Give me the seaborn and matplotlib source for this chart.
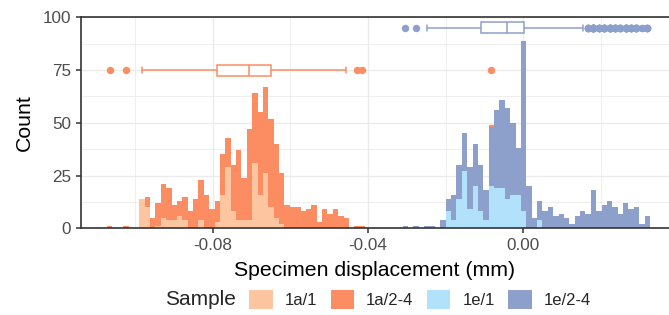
import numpy as np
import pandas as pd
import matplotlib
matplotlib.use("Agg")
import matplotlib.pyplot as plt
import seaborn as sns
from matplotlib.patches import Patch
from matplotlib.ticker import FixedLocator

# ---------------- data ----------------
samples = ["1a/1", "1a/2-4", "1e/1", "1e/2-4"]
sample_group = {"1a/1": "1a", "1a/2-4": "1a", "1e/1": "1e", "1e/2-4": "1e"}

# histogram bin grid (mm)
bin_start = -0.10729
bin_width = 0.0013853

# counts per bin (101 bins)
c_1a_1 = [0, 0, 0, 0, 0, 0, 14, 10, 0, 1,
          5, 4, 4, 6, 4, 0, 0, 4, 0, 0,
          3, 16, 29, 8, 4, 4, 4, 31, 16, 26,
          10, 5, 2, 0, 0, 0, 0, 0, 0, 0,
          0, 0, 0, 0, 0, 0, 0, 0, 0, 0,
          0, 0, 0, 0, 0, 0, 0, 0, 0, 0,
          0, 0, 0, 0, 0, 0, 0, 0, 0, 0,
          0, 0, 0, 0, 0, 0, 0, 0, 0, 0,
          0, 0, 0, 0, 0, 0, 0, 0, 0, 0,
          0, 0, 0, 0, 0, 0, 0, 0, 0, 0,
          0]
c_1a_24 = [1, 0, 0, 1, 0, 0, 0, 5, 5, 11,
           16, 15, 7, 7, 11, 8, 14, 19, 16, 9,
           10, 19, 14, 22, 33, 20, 43, 33, 39, 41,
           42, 35, 24, 11, 10, 10, 8, 9, 11, 3,
           9, 7, 9, 6, 5, 0, 1, 1, 0, 0,
           0, 0, 0, 0, 0, 0, 0, 0, 0, 0,
           0, 0, 0, 0, 0, 0, 0, 0, 0, 0,
           0, 1, 0, 0, 0, 0, 0, 0, 0, 0,
           0, 0, 0, 0, 0, 0, 0, 0, 0, 0,
           0, 0, 0, 0, 0, 0, 0, 0, 0, 0,
           0]
c_1e_1 = [0, 0, 0, 0, 0, 0, 0, 0, 0, 0,
          0, 0, 0, 0, 0, 0, 0, 0, 0, 0,
          0, 0, 0, 0, 0, 0, 0, 0, 0, 0,
          0, 0, 0, 0, 0, 0, 0, 0, 0, 0,
          0, 0, 0, 0, 0, 0, 0, 0, 0, 0,
          0, 0, 0, 0, 0, 0, 0, 0, 0, 0,
          0, 0, 0, 8, 4, 14, 27, 9, 20, 8,
          4, 20, 19, 19, 14, 16, 16, 8, 0, 0,
          4, 0, 0, 0, 0, 0, 0, 0, 0, 0,
          0, 0, 0, 0, 0, 0, 0, 0, 0, 0,
          0]
c_1e_24 = [0, 0, 0, 0, 0, 0, 0, 0, 0, 0,
           0, 0, 0, 0, 0, 0, 0, 0, 0, 0,
           0, 0, 0, 0, 0, 0, 0, 0, 0, 0,
           0, 0, 0, 0, 0, 0, 0, 0, 0, 0,
           0, 0, 0, 0, 0, 0, 0, 0, 0, 0,
           0, 0, 0, 0, 0, 1, 0, 1, 0, 1,
           1, 0, 4, 6, 12, 16, 18, 20, 20, 22,
           14, 28, 37, 42, 43, 34, 22, 81, 20, 5,
           9, 8, 10, 6, 7, 5, 2, 6, 8, 7,
           18, 8, 11, 13, 10, 7, 12, 9, 10, 2,
           6]

counts = {"1a/1": c_1a_1, "1a/2-4": c_1a_24, "1e/1": c_1e_1, "1e/2-4": c_1e_24}

x_ticks = [-0.08, -0.04, 0.00]
x_tick_labels = ["-0.08", "-0.04", "0.00"]
x_minor = [-0.10, -0.06, -0.02, 0.02]
y_ticks = [0, 25, 50, 75, 100]
y_tick_labels = ["0", "25", "50", "75", "100"]
y_minor = [12.5, 37.5, 62.5, 87.5]

# ---------------- style ----------------
colors = {"1a/1": "#FDC5A0", "1a/2-4": "#FC8D62", "1e/1": "#B1E1FB", "1e/2-4": "#8DA0CB"}
box_colors = {"1a": "#FC8D62", "1e": "#8DA0CB"}
box_rows = {"1a": 75, "1e": 95}
stack_order = ["1a/2-4", "1e/2-4", "1e/1", "1a/1"]  # first = top of stack

sns.set_theme(style="white")
plt.rcParams["font.family"] = ["Liberation Sans", "DejaVu Sans"]

n = len(c_1a_1)
edges = bin_start + bin_width * np.arange(n + 1)
centers = edges[:-1] + bin_width / 2

hist_df = pd.DataFrame({
    "x": np.tile(centers, len(samples)),
    "count": np.concatenate([counts[s] for s in samples]),
    "Sample": np.repeat(samples, n),
})

W, H = 669, 315
fig = plt.figure(figsize=(W / 100, H / 100), dpi=100)
L, R, T, B = 80.7, 669, 17.3, 228.3
ax = fig.add_axes([L / W, 1 - B / H, (R - L) / W, (B - T) / H])
ax.set_axisbelow(True)

sns.histplot(data=hist_df, x="x", weights="count", hue="Sample",
             hue_order=stack_order, palette=colors, bins=list(edges),
             multiple="stack", element="step", fill=True, alpha=1,
             linewidth=0, legend=False, ax=ax)

for grp, ypos in box_rows.items():
    members = [s for s in samples if sample_group[s] == grp]
    vals = np.concatenate([np.repeat(centers, counts[s]) for s in members])
    bdf = pd.DataFrame({"x": vals, "y": np.full(len(vals), ypos)})
    col = box_colors[grp]
    sns.boxplot(data=bdf, x="x", y="y", orient="y", native_scale=True,
                width=5.2, color="white", saturation=1, linecolor=col,
                linewidth=1.1, fliersize=4.3,
                flierprops=dict(marker="o", markerfacecolor=col,
                                markeredgecolor=col),
                ax=ax)

ax.set_xlim(-0.11407, 0.03755)
ax.set_ylim(0, 100)
ax.xaxis.set_major_locator(FixedLocator(x_ticks))
ax.set_xticklabels(x_tick_labels)
ax.xaxis.set_minor_locator(FixedLocator(x_minor))
ax.yaxis.set_major_locator(FixedLocator(y_ticks))
ax.set_yticklabels(y_tick_labels)
ax.yaxis.set_minor_locator(FixedLocator(y_minor))

ax.grid(True, which="major", color="#EBEBEB", linewidth=1.0)
ax.grid(True, which="minor", color="#EBEBEB", linewidth=0.55)

for side in ["top", "left", "bottom"]:
    ax.spines[side].set_visible(True)
    ax.spines[side].set_color("#333333")
    ax.spines[side].set_linewidth(1.2)
ax.spines["right"].set_visible(False)

ax.tick_params(axis="both", which="major", length=3.5, width=1.1,
               color="#333333", labelcolor="#4D4D4D", labelsize=12.3, pad=3.5,
               bottom=True, left=True)
ax.tick_params(axis="both", which="minor", length=0)

ax.set_xlabel("Specimen displacement (mm)", fontsize=15.3, color="black", labelpad=5.5)
ax.set_ylabel("Count", fontsize=15.3, color="black", labelpad=6)

handles = [Patch(facecolor=colors[s], edgecolor="none") for s in samples]
fig.legend(handles, samples, loc="center", bbox_to_anchor=(420 / W, 1 - 299.5 / H),
           ncol=4, frameon=False, fontsize=12, handlelength=1.41,
           handleheight=1.41, handletextpad=0.72, columnspacing=0.8,
           borderpad=0, borderaxespad=0)
fig.text(165.5 / W, 1 - 299.5 / H, "Sample", fontsize=15, ha="left", va="center")

fig.savefig("out.png", dpi=100)
